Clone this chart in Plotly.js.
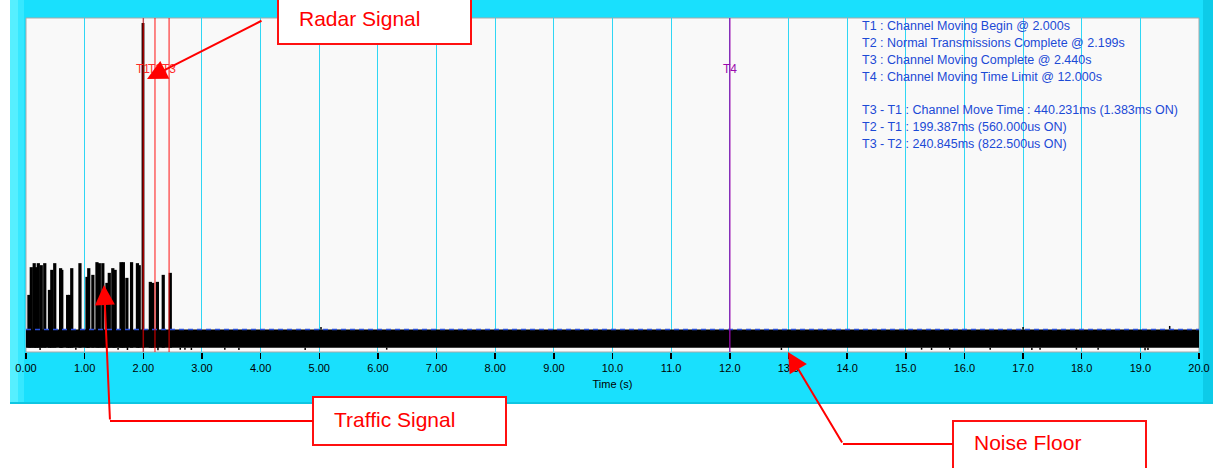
<!DOCTYPE html>
<html><head><meta charset="utf-8">
<script src="https://cdn.plot.ly/plotly-3.0.1.min.js"></script>
<style>html,body{margin:0;padding:0;background:#fff}#chart{width:1215px;height:468px}</style>
</head><body><div id="chart"></div>
<script>
// ---------- data ----------
const tickVals = [0,1,2,3,4,5,6,7,8,9,10,11,12,13,14,15,16,17,18,19,20];
const tickText = ["0.00","1.00","2.00","3.00","4.00","5.00","6.00","7.00","8.00","9.00",
                  "10.0","11.0","12.0","13.0","14.0","15.0","16.0","17.0","18.0","19.0","20.0"];

// traffic bursts before / during channel move (time s, level)
const trafficT = [0.05,0.09,0.14,0.17,0.21,0.26,0.32,0.40,0.44,0.49,0.59,0.61,0.71,0.74,0.78,0.92,
                  1.04,1.07,1.14,1.21,1.25,1.31,1.38,1.42,1.48,1.52,1.62,1.66,1.72,1.80,1.90,1.93,
                  2.12,2.16,2.24,2.34,2.46];
const trafficV = [17.1,25.4,26.6,25.4,26.6,26.0,26.6,18.6,24.6,26.6,25.1,24.6,17.1,17.1,25.1,26.6,
                  22.5,25.1,23.1,26.9,26.6,26.6,20.7,23.7,25.1,24.6,26.9,26.9,22.2,26.9,26.6,26.0,
                  21.0,20.7,21.0,23.1,23.7];

// radar pulse
const radarT = [1.995];
const radarV = [98.5];

// noise floor band
const noiseT = [0, 20];
const noiseLow = [1.3, 1.3];
const noiseHigh = [6.7, 6.7];
const noiseDipT = [0.24,0.85,1.57,1.73,2.25,2.63,2.71,2.82,3.39,3.63,4.76,6.15,12.88,15.27,15.44,15.75,16.44,17.15,17.29,17.91,18.28,19.08,19.13];
const noiseDipV = [0.6,0.7,0.7,0.6,0.5,0.7,0.7,0.6,0.7,0.6,0.6,0.7,0.6,0.7,0.6,0.7,0.7,0.6,0.7,0.7,0.7,0.5,0.6];
const noiseSpikeT = [5.03, 17.0, 19.5];
const noiseSpikeV = [7.5, 7.5, 7.8];
const thresholdLevel = [6.7, 6.7];

// event markers
const markerNames = ["T1","T2","T3","T4"];
const markerT = [2.000, 2.199, 2.440, 12.000];

const infoLines = [
  "T1 : Channel Moving Begin @ 2.000s",
  "T2 : Normal Transmissions Complete @ 2.199s",
  "T3 : Channel Moving Complete @ 2.440s",
  "T4 : Channel Moving Time Limit @ 12.000s",
  "",
  "T3 - T1 : Channel Move Time : 440.231ms (1.383ms ON)",
  "T2 - T1 : 199.387ms (560.000us ON)",
  "T3 - T2 : 240.845ms (822.500us ON)"
];
const calloutTexts = ["Radar Signal", "Traffic Signal", "Noise Floor"];
const axisTitle = "Time (s)";

// ---------- geometry helpers (pixels -> paper) ----------
const W = 1215, Hh = 468;
const L = 26, R = 1199, T = 18, B = 352;
const px = x => (x - L) / (R - L);
const py = y => (B - y) / (B - T);
const FONT = "Liberation Sans, Arial, sans-serif";

// ---------- traces ----------
const traces = [];
traces.push({x: trafficT, y: trafficV.map(v => v - noiseLow[0]), base: noiseLow[0], type: 'bar',
  width: 0.055, marker: {color: '#000', line: {width: 0}}, hoverinfo: 'skip', showlegend: false});
traces.push({x: radarT, y: radarV.map(v => v - noiseLow[0]), base: noiseLow[0], type: 'bar',
  width: 0.048, marker: {color: '#120000', line: {width: 0}}, hoverinfo: 'skip', showlegend: false});
traces.push({x: noiseT, y: noiseLow, mode: 'lines', line: {width: 0, color: '#000'}, hoverinfo: 'skip', showlegend: false});
traces.push({x: noiseT, y: noiseHigh, mode: 'lines', fill: 'tonexty', fillcolor: '#000',
  line: {width: 0, color: '#000'}, hoverinfo: 'skip', showlegend: false});
const dx = [], dy = [];
noiseDipT.forEach((t, i) => { dx.push(t, t, null); dy.push(noiseLow[0], noiseDipV[i], null); });
noiseSpikeT.forEach((t, i) => { dx.push(t, t, null); dy.push(noiseHigh[0], noiseSpikeV[i], null); });
traces.push({x: dx, y: dy, mode: 'lines', line: {width: 1.5, color: '#000'}, hoverinfo: 'skip', showlegend: false});
traces.push({x: noiseT, y: thresholdLevel, mode: 'lines', line: {width: 1.5, color: '#2a4fd8', dash: '5px,4px'},
  hoverinfo: 'skip', showlegend: false});

// ---------- shapes ----------
const shapes = [
  {type: 'rect', xref: 'paper', yref: 'paper', layer: 'below', x0: px(10), x1: px(1213), y0: py(404), y1: py(-2),
   fillcolor: '#19e0fd', line: {width: 0}},
  {type: 'rect', xref: 'paper', yref: 'paper', layer: 'below', x0: px(10), x1: px(18), y0: py(404), y1: py(-2),
   fillcolor: '#56efff', line: {width: 0}},
  {type: 'rect', xref: 'paper', yref: 'paper', layer: 'below', x0: px(18), x1: px(24), y0: py(404), y1: py(-2),
   fillcolor: '#36e8ff', line: {width: 0}},
  {type: 'rect', xref: 'paper', yref: 'paper', layer: 'below', x0: px(1203), x1: px(1213), y0: py(404), y1: py(-2),
   fillcolor: '#0dcbe8', line: {width: 0}},
  {type: 'rect', xref: 'paper', yref: 'paper', layer: 'below', x0: px(10), x1: px(1213), y0: py(404), y1: py(402),
   fillcolor: '#0fc6e2', line: {width: 0}},
  {type: 'rect', xref: 'paper', yref: 'paper', layer: 'below', x0: 0, x1: 1, y0: 0, y1: 1,
   fillcolor: '#f9f9f9', line: {width: 1, color: '#a9a9a9'}},
];
markerT.forEach((t, i) => {
  const purple = i === 3;
  shapes.push({type: 'line', xref: 'x', yref: 'paper', x0: t, x1: t, y0: 0, y1: 1, layer: 'above',
    opacity: purple ? 0.85 : 0.62, line: {color: purple ? '#9a0aae' : '#ff0000', width: 1.5}});
});
const boxes = [[278, 471, -5, 44], [313, 506, 397, 445], [953, 1146, 421, 480]];
boxes.forEach(b => shapes.push({type: 'rect', xref: 'paper', yref: 'paper', layer: 'above',
  x0: px(b[0]), x1: px(b[1]), y0: py(b[3]), y1: py(b[2]), fillcolor: '#fff', line: {color: '#ff1010', width: 2}}));
shapes.push({type: 'line', xref: 'paper', yref: 'paper', layer: 'above', x0: px(110), x1: px(313), y0: py(421), y1: py(421),
  line: {color: '#ff0000', width: 2}});
shapes.push({type: 'line', xref: 'paper', yref: 'paper', layer: 'above', x0: px(843), x1: px(953), y0: py(444), y1: py(444),
  line: {color: '#ff0000', width: 2}});

// ---------- annotations ----------
const annotations = [];
const infoY = [26, 43, 60, 77, 93, 110, 127, 144];
infoLines.forEach((s, i) => {
  if (!s) return;
  annotations.push({text: s, xref: 'paper', yref: 'paper', x: px(860), y: py(infoY[i]), xanchor: 'left', yanchor: 'middle',
    showarrow: false, font: {family: FONT, size: 12.5, color: '#1c4ad6'}});
});
markerNames.forEach((n, i) => {
  annotations.push({text: n, xref: 'x', yref: 'paper', x: markerT[i], y: py(69), xanchor: 'center', yanchor: 'middle',
    showarrow: false, font: {family: FONT, size: 12, color: i === 3 ? '#9a0aae' : '#ff2a2a'}});
});
const calloutPos = [[297, 18], [332, 419], [972, 442]];
calloutTexts.forEach((s, i) => {
  annotations.push({text: s, xref: 'paper', yref: 'paper', x: px(calloutPos[i][0]), y: py(calloutPos[i][1]),
    xanchor: 'left', yanchor: 'middle', showarrow: false, font: {family: FONT, size: 21, color: '#ff0000'}});
});
const arrows = [[147, 79, 263, 20], [104, 285, 110, 421], [788, 352, 843, 444]];
arrows.forEach(a => annotations.push({text: '', xref: 'paper', yref: 'paper', x: px(a[0]), y: py(a[1]),
  ax: a[2] - a[0], ay: a[3] - a[1], showarrow: true, arrowhead: 2, arrowsize: 2, arrowwidth: 2, arrowcolor: '#ff0000', standoff: 0}));

const layout = {
  width: W, height: Hh,
  margin: {l: L, r: W - R, t: T, b: Hh - B, pad: 0},
  paper_bgcolor: '#ffffff', plot_bgcolor: 'rgba(0,0,0,0)',
  showlegend: false, barmode: 'overlay',
  xaxis: {range: [0, 20], tickmode: 'array', tickvals: tickVals, ticktext: tickText,
    showgrid: true, gridcolor: '#2fd6f4', gridwidth: 1, zeroline: false,
    ticks: 'outside', ticklen: 6, tickwidth: 1.5, tickcolor: '#000', showline: false,
    tickfont: {family: FONT, size: 11, color: '#000'},
    title: {text: axisTitle, font: {family: FONT, size: 11, color: '#000'}, standoff: 7}},
  yaxis: {range: [0, 100], showgrid: false, zeroline: false, showticklabels: false, ticks: '', showline: false, fixedrange: true},
  shapes: shapes, annotations: annotations
};
Plotly.newPlot('chart', traces, layout, {staticPlot: true, displayModeBar: false});
</script></body></html>
